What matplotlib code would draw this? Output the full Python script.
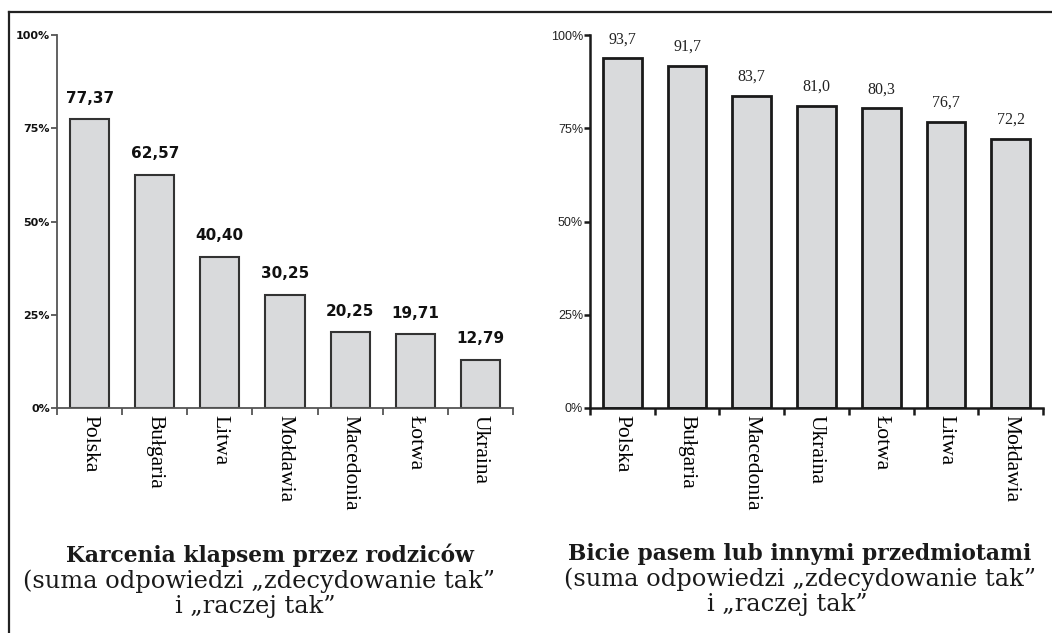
import matplotlib
matplotlib.use("Agg")
import matplotlib.pyplot as plt
from matplotlib.lines import Line2D
from matplotlib.ticker import FixedLocator, NullFormatter
import numpy as np

# ---- data ----
left_categories = ["Polska", "Bułgaria", "Litwa", "Mołdawia", "Macedonia", "Łotwa", "Ukraina"]
left_values = [77.37, 62.57, 40.40, 30.25, 20.25, 19.71, 12.79]
left_labels = ["77,37", "62,57", "40,40", "30,25", "20,25", "19,71", "12,79"]

right_categories = ["Polska", "Bułgaria", "Macedonia", "Ukraina", "Łotwa", "Litwa", "Mołdawia"]
right_values = [93.7, 91.7, 83.7, 81.0, 80.3, 76.7, 72.2]
right_labels = ["93,7", "91,7", "83,7", "81,0", "80,3", "76,7", "72,2"]

yticks = [0, 25, 50, 75, 100]
ytick_labels = ["0%", "25%", "50%", "75%", "100%"]

left_title = ["Karcenia klapsem przez rodziców",
              "(suma odpowiedzi \u201ezdecydowanie tak\u201d",
              "i \u201eraczej tak\u201d"]
right_title = ["Bicie pasem lub innymi przedmiotami",
               "(suma odpowiedzi \u201ezdecydowanie tak\u201d",
               "i \u201eraczej tak\u201d"]

W, H = 1052, 633
fig = plt.figure(figsize=(W / 100, H / 100), dpi=100)

SERIF = ["Liberation Serif", "DejaVu Serif"]
TSERIF = ["DejaVu Serif"]
FILL = "#d9dadc"


def setup(ax, cats, vals, labels, edge, elw, spine_c, spine_w, ylab_kw, val_kw, val_off):
    x = np.arange(len(cats))
    ax.bar(x, vals, width=0.6, color=FILL, edgecolor=edge, linewidth=elw, zorder=2)
    ax.set_xlim(-0.5, len(cats) - 0.5)
    ax.set_ylim(0, 100)
    for s in ["top", "right"]:
        ax.spines[s].set_visible(False)
    for s in ["left", "bottom"]:
        ax.spines[s].set_color(spine_c)
        ax.spines[s].set_linewidth(spine_w)
    ax.set_yticks(yticks)
    ax.set_yticklabels(ytick_labels, **ylab_kw)
    ax.tick_params(axis="y", length=4, width=spine_w, color=spine_c, pad=1)
    ax.set_xticks(x)
    ax.set_xticklabels(cats, rotation=270, family=SERIF, fontsize=15.5, va="top", ha="center")
    ax.tick_params(axis="x", which="major", length=0, pad=5)
    ax.xaxis.set_minor_locator(FixedLocator(np.arange(len(cats) + 1) - 0.5))
    ax.xaxis.set_minor_formatter(NullFormatter())
    ax.tick_params(axis="x", which="minor", length=5, width=spine_w, color=spine_c)
    for xi, v, lab in zip(x, vals, labels):
        ax.annotate(lab, (xi, v), xytext=(0, val_off), textcoords="offset points",
                    ha="center", va="bottom", **val_kw)


axL = fig.add_axes([57 / W, 1 - 408 / H, 456 / W, 373 / H])
setup(axL, left_categories, left_values, left_labels, "#333333", 1.5, "#555555", 1.3,
      dict(fontsize=8, fontweight="bold", family="DejaVu Sans", color="#111111"),
      dict(fontsize=11, fontweight="bold", family="DejaVu Sans", color="#111111"), 10)

axR = fig.add_axes([590 / W, 1 - 408 / H, 453 / W, 373 / H])
setup(axR, right_categories, right_values, right_labels, "#1a1a1a", 2.0, "#1a1a1a", 1.8,
      dict(fontsize=9, family="Liberation Sans", color="#222222"),
      dict(fontsize=11.5, family=SERIF, color="#222222"), 8)

# frame lines
fig.add_artist(Line2D([9 / W, 1], [1 - 12 / H, 1 - 12 / H], color="#222222", lw=1.6,
                      transform=fig.transFigure))
fig.add_artist(Line2D([9 / W, 9 / W], [0, 1 - 12 / H], color="#222222", lw=1.6,
                      transform=fig.transFigure))

# titles: (center x px, baseline y px)
left_pos = [(270, 562), (259, 588), (255, 613)]
right_pos = [(800, 560), (800, 586), (787, 611)]
texts = []
for lines, pos in [(left_title, left_pos), (right_title, right_pos)]:
    row = []
    for i, (line, (cx, by)) in enumerate(zip(lines, pos)):
        t = fig.text(cx / W, 1 - by / H, line, ha="center", va="baseline",
                     family=TSERIF, fontsize=15, color="#1a1a1a",
                     fontweight="bold" if i == 0 else "normal")
        row.append(t)
    texts.append(row)

fig.canvas.draw()
r = fig.canvas.get_renderer()
# fit bold line to mean of measured widths, subtitle lines share one size
wl = texts[0][0].get_window_extent(r).width
wr = texts[1][0].get_window_extent(r).width
s1 = 15 * 0.5 * (420 / wl + 455 / wr)
w2 = texts[0][1].get_window_extent(r).width
s2 = 15 * 472 / w2
for row in texts:
    row[0].set_fontsize(s1)
    row[1].set_fontsize(s2)
    row[2].set_fontsize(s2)

fig.savefig("out.png", dpi=100)
